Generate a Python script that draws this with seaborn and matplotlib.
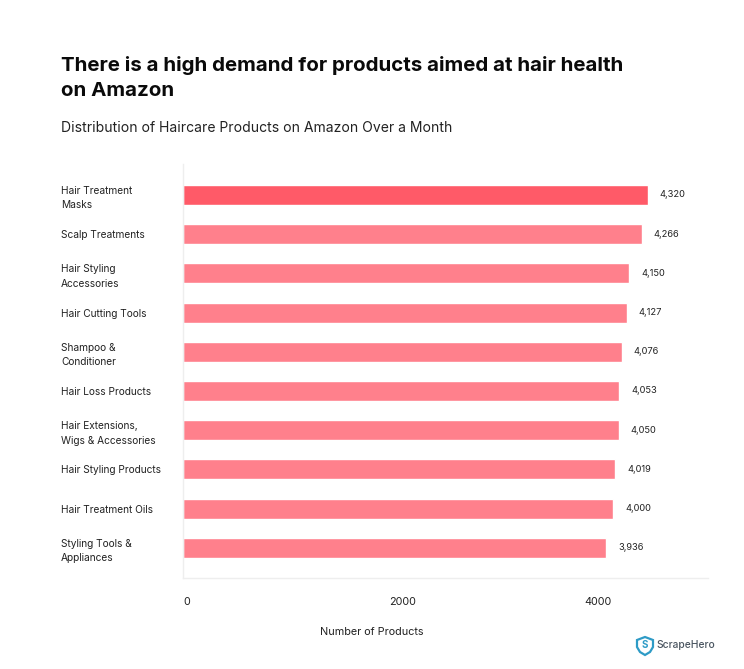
import matplotlib
matplotlib.use("Agg")
from matplotlib import pyplot as plt
from matplotlib.patches import Polygon
import seaborn as sns
import pandas as pd

categories = [
    "Hair Treatment\nMasks",
    "Scalp Treatments",
    "Hair Styling\nAccessories",
    "Hair Cutting Tools",
    "Shampoo &\nConditioner",
    "Hair Loss Products",
    "Hair Extensions,\nWigs & Accessories",
    "Hair Styling Products",
    "Hair Treatment Oils",
    "Styling Tools &\nAppliances",
]
products = [4320, 4266, 4150, 4127, 4076, 4053, 4050, 4019, 4000, 3936]
bar_colors = ["#FF5A68"] + ["#FF808C"] * 9

# the reference axis labels do not sit on the true scale of the bars
tick_positions = [0, 2045, 3857]
tick_labels = ["0", "2000", "4000"]

W, H = 744, 669
LEFT, RIGHT, TOP, BOTTOM = 183, 708, 164, 578

sns.set_theme(style="white")
plt.rcParams["font.family"] = ["Inter", "DejaVu Sans"]

df = pd.DataFrame({"category": categories, "products": products})

fig = plt.figure(figsize=(W / 100, H / 100), dpi=100)
ax = fig.add_axes([LEFT / W, 1 - BOTTOM / H, (RIGHT - LEFT) / W, (BOTTOM - TOP) / H])

sns.barplot(
    data=df,
    x="products",
    y="category",
    hue="category",
    palette=bar_colors,
    legend=False,
    width=0.51,
    saturation=1,
    ax=ax,
)

ax.set_xlim(0, 4880)
ax.set_ylim(9.77, -0.79)
ax.set_ylabel("")
ax.set_xlabel("Number of Products", fontsize=7.8, color="#222222")
ax.xaxis.set_label_coords((372 - LEFT) / (RIGHT - LEFT), -0.118)

for container in ax.containers:
    ax.bar_label(container, fmt="{:,.0f}", padding=8.6, fontsize=6.7, color="#222222")

sns.despine(ax=ax, top=True, right=True)
for side in ["left", "bottom"]:
    ax.spines[side].set_color("#EEEEEE")
    ax.spines[side].set_linewidth(1)

ax.set_xticks(tick_positions, tick_labels)
ax.tick_params(axis="x", direction="in", length=6, color="#EEEEEE", width=1,
               pad=14, labelsize=7.8, labelcolor="#222222")
ax.get_xticklabels()[0].set_ha("left")
ax.tick_params(axis="y", length=0, pad=(LEFT - 61) * 0.72, labelsize=7.3, labelcolor="#222222")
for label in ax.get_yticklabels():
    label.set_ha("left")
    label.set_linespacing(1.55)

fig.text(61 / W, 1 - 65.5 / H, "There is a high demand for products aimed at hair health",
         fontsize=14.75, fontweight="bold", color="#0A0A0A", va="center")
fig.text(61 / W, 1 - 91.5 / H, "on Amazon",
         fontsize=14.75, fontweight="bold", color="#0A0A0A", va="center")
fig.text(61 / W, 1 - 127.5 / H, "Distribution of Haircare Products on Amazon Over a Month",
         fontsize=10.05, color="#222222", va="center")

# ScrapeHero logo
shield = [(637, 640), (645, 637), (653, 640), (653, 647), (650, 652), (645, 655), (640, 652), (637, 647)]
fig.add_artist(Polygon([(x / W, 1 - y / H) for x, y in shield], closed=True,
                       transform=fig.transFigure, facecolor="white", edgecolor="#2E9BC6", linewidth=1.6))
fig.text(645 / W, 1 - 645.5 / H, "S", fontsize=7, fontweight="bold", color="#2E9BC6", ha="center", va="center")
fig.text(656 / W, 1 - 645.5 / H, "ScrapeHero", fontsize=7.4, fontweight="medium", color="#4A5560", va="center")

fig.savefig("out.png", dpi=100)
